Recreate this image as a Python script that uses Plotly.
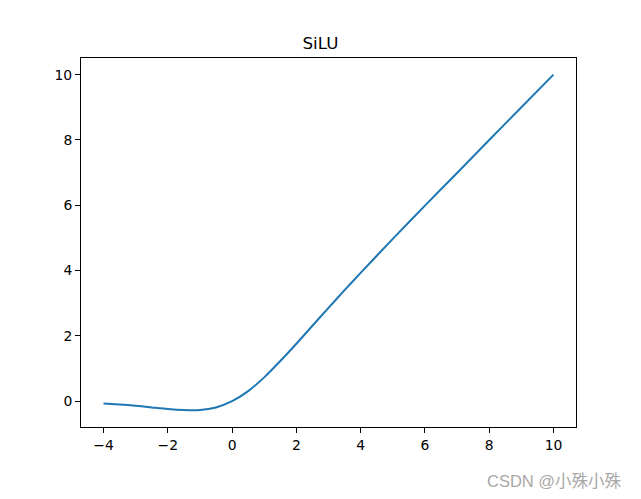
import plotly.graph_objects as go

x_vals = [-4, -3.5, -3, -2.5, -2, -1.5, -1, -0.5, 0, 0.5, 1, 1.5, 2, 2.5, 3, 3.5, 4, 5, 6, 7, 8, 9, 10]
y_vals = [-0.07, -0.10, -0.14, -0.19, -0.24, -0.27, -0.27, -0.19, 0.0, 0.31, 0.73, 1.23, 1.76, 2.31, 2.86, 3.40, 3.93, 4.97, 5.99, 6.99, 8.0, 9.0, 10.0]
x_ticks = [-4, -2, 0, 2, 4, 6, 8, 10]
y_ticks = [0, 2, 4, 6, 8, 10]

fig = go.Figure()
fig.add_trace(go.Scatter(x=x_vals, y=y_vals, mode="lines",
                         line=dict(color="#1f77b4", width=2, shape="spline", smoothing=0.6)))

axis_style = dict(showgrid=False, zeroline=False, showline=True, linecolor="black", linewidth=1,
                  mirror=True, ticks="outside", ticklen=5, tickwidth=1, tickcolor="black",
                  tickfont=dict(family="DejaVu Sans", size=13.9, color="black"))

fig.update_xaxes(range=[-4.7, 10.7], tickvals=x_ticks, ticktext=[str(v).replace("-", "−") for v in x_ticks], **axis_style)
fig.update_yaxes(range=[-0.79, 10.51], tickvals=y_ticks, **axis_style)

# la page ajoute 8px de marge autour du graphique
fig.update_layout(
    width=625, height=483,
    margin=dict(l=73, r=57, t=50, b=64),
    plot_bgcolor="white", paper_bgcolor="white",
    showlegend=False,
    title=dict(text="SiLU", x=0.5, xanchor="center", y=1 - 35 / 483, yanchor="middle",
               font=dict(family="DejaVu Sans", size=16.7, color="black")),
    annotations=[dict(text="CSDN @小殊小殊", xref="paper", yref="paper", x=1.097, y=-0.146,
                      xanchor="right", yanchor="middle", showarrow=False,
                      font=dict(family="Liberation Sans, Noto Sans CJK SC", size=16.5, color="#a8a8a8"))],
)

fig.write_html("out.html")
